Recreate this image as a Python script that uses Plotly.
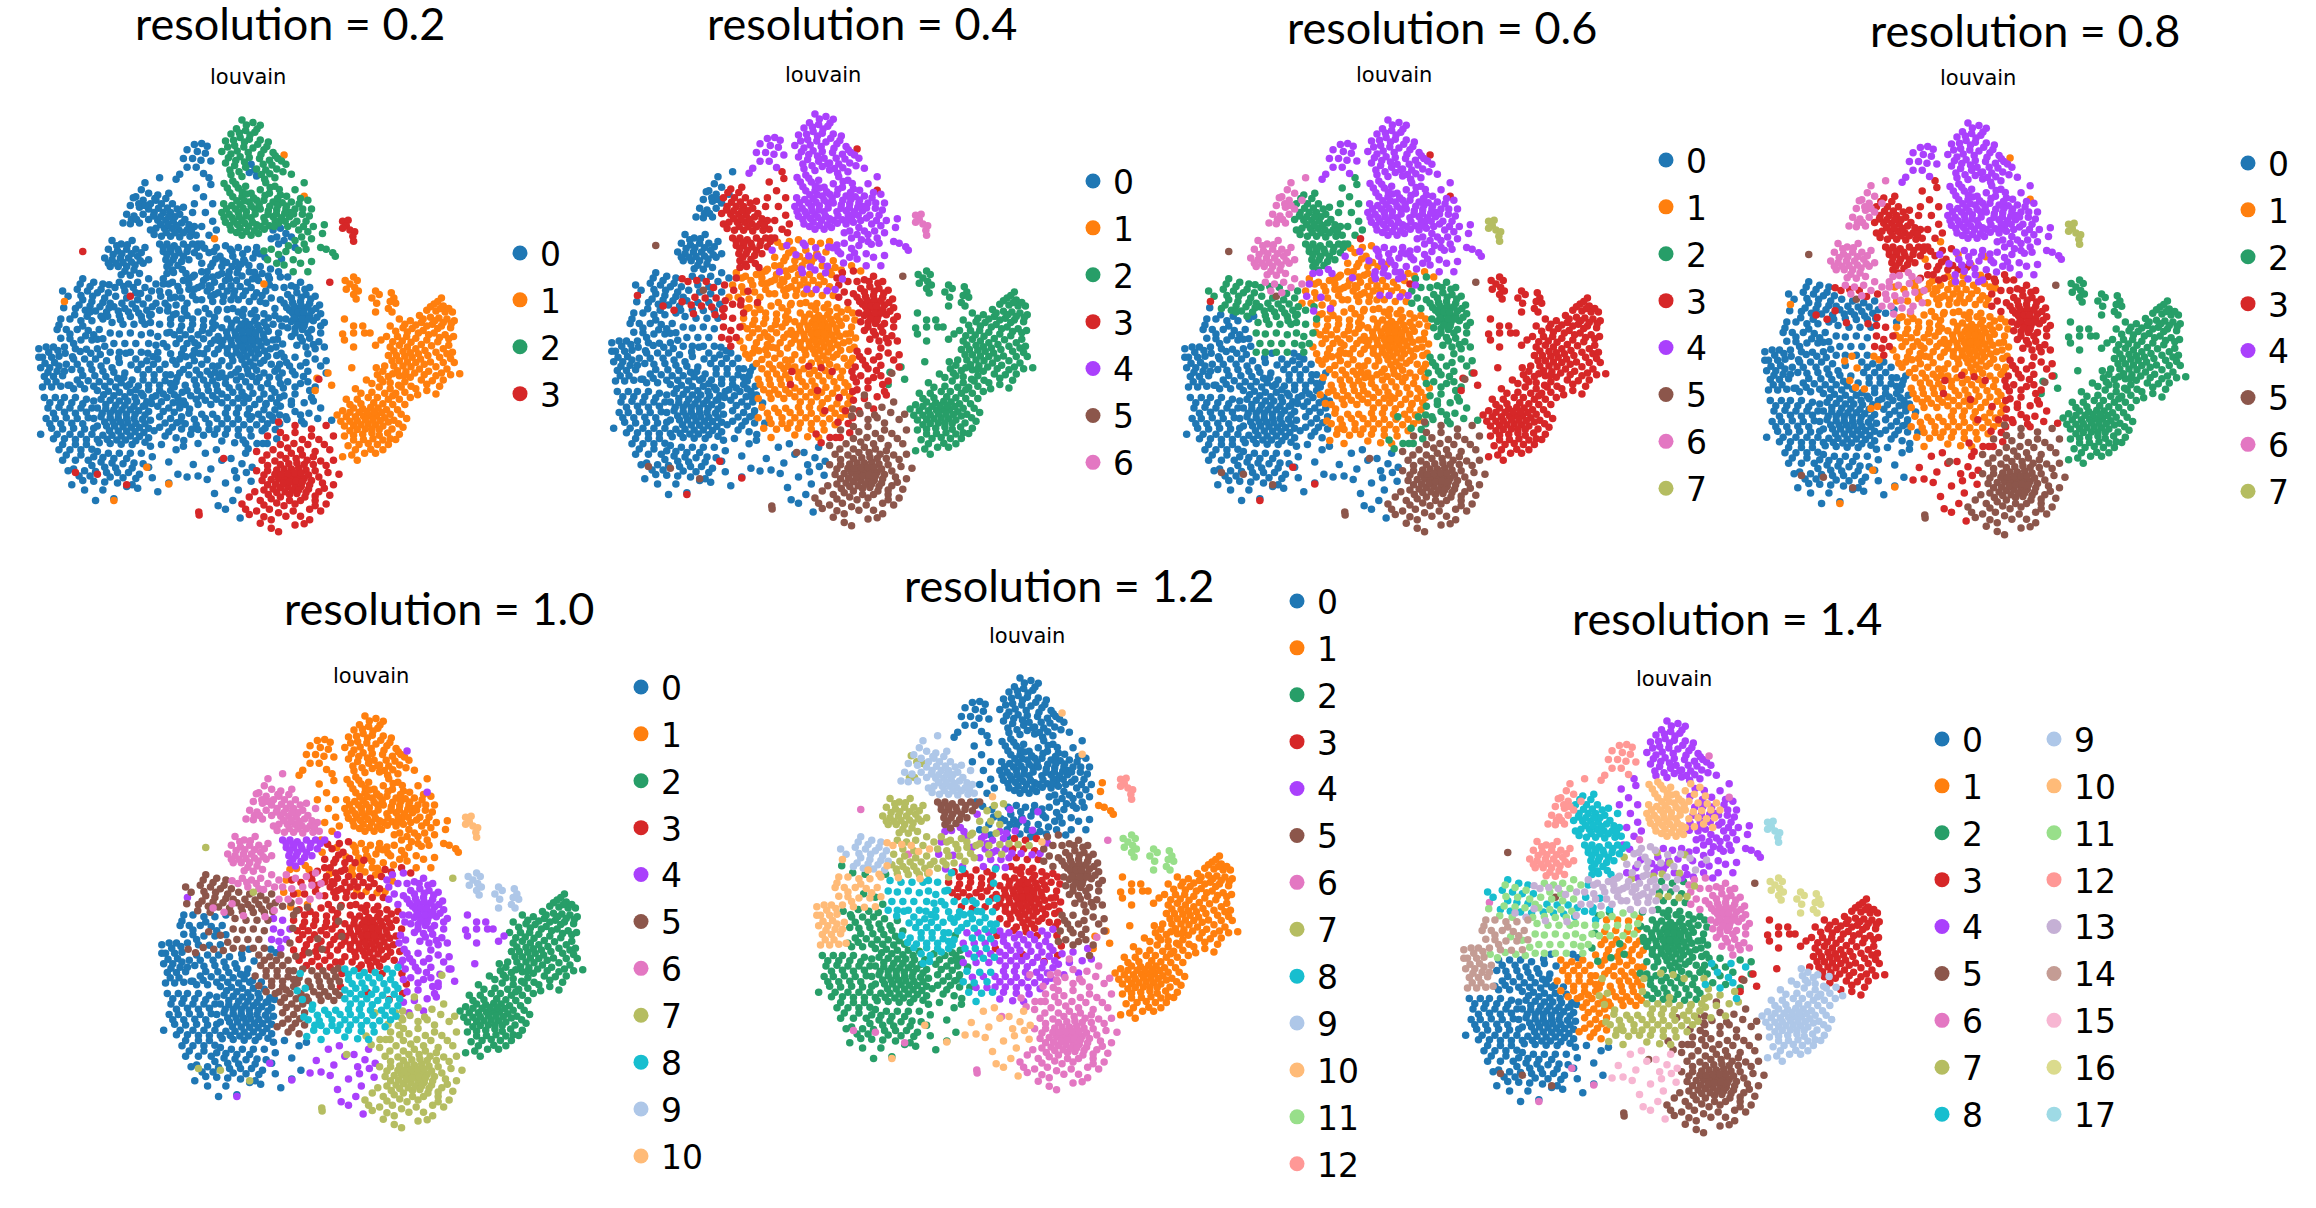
import plotly.graph_objects as go

peak = [(600,335),(630,342),(650,350),(585,360),(610,365),(635,370),(570,375),(595,385),(620,390),(650,392),(672,398),(555,395),(580,408),(605,412),(630,415),(660,420),(685,428),(545,425),(570,432),(595,440),(620,442),(648,445),(675,450),(698,445),(555,458),(580,465),(610,470),(640,475),(665,478),(695,475),(720,462),(570,492),(600,497),(662,505),(690,500),(735,490)]
peak_spot = [(625,462),(635,478),(620,485),(640,495)]
wing = [(470,405),(490,402),(505,410),(450,420),(478,425),(500,430),(440,445),(465,445),(488,450),(515,452),(450,470),(475,470),(495,488),(430,490),(420,505)]
wing_low = [(510,500),(475,530),(515,520),(495,555),(520,575),(470,575),(500,600),(520,625),(490,640),(510,665),(480,690),(530,650)]
mid_l = [(575,510),(560,530),(590,530),(610,525),(575,555),(600,555),(625,545),(550,575),(572,580),(595,578),(620,570),(640,565),(545,600),(565,605),(590,600),(612,598),(635,590),(555,628),(578,625),(600,622),(625,615),(570,650),(595,645),(618,640),(640,635),(600,665),(625,665)]
mid_c = [(665,515),(690,525),(650,535),(675,545),(705,550),(660,565),(685,570),(710,572),(735,570),(650,590),(672,595),(695,592),(720,590),(745,590),(660,615),(685,612),(708,615),(730,612),(650,640),(675,638),(700,630),(645,660),(725,640)]
mid_r = [(745,535),(770,515),(760,560),(780,565),(790,590),(765,605),(750,625),(775,625),(795,640),(755,650),(780,655),(790,675),(770,690),(745,680)]
patch = [(685,650),(705,645),(720,660),(695,670),(715,680),(735,670),(700,690),(680,675),(745,700)]
bridge_r = [(660,710),(680,705),(700,720),(720,712),(670,735),(695,745),(740,735),(760,745),(715,750),(780,770),(790,740),(740,770),(775,705)]
bridge_c = [(590,700),(615,705),(640,700),(575,725),(605,735),(630,730),(650,755),(590,760),(620,770),(565,770),(640,785)]
bridge_l = [(530,700),(555,695),(510,715),(540,725),(490,745),(520,745),(545,755),(505,770),(470,780),(535,780)]
blob_a_up = [(370,550),(400,545),(350,575),(380,575),(410,575),(360,600),(385,600),(405,600),(430,605),(345,620),(370,622),(392,622),(412,625),(435,630),(455,635),(365,645),(388,645),(408,645),(428,650),(450,650),(470,640),(350,650),(380,668),(405,668),(430,670),(458,668),(475,665),(440,585),(465,600)]
blob_a_low = [(375,690),(395,690),(415,695),(440,690),(465,690),(385,712),(405,712),(428,715),(450,712),(478,700),(392,735),(412,735),(435,740),(395,755),(410,765),(455,735),(490,690)]
fringe = [(335,515),(375,500),(325,535),(345,545),(310,555),(330,565),(295,580),(320,585),(345,590),(285,605),(305,610),(330,605),(275,630),(295,632),(320,630),(365,565)]
blob_b = [(245,680),(270,690),(300,680),(235,705),(260,710),(285,705),(310,705),(335,700),(225,730),(245,735),(268,730),(290,730),(315,725),(345,735),(240,755),(262,755),(285,755),(308,750),(330,745),(270,778),(295,780),(320,775)]
below_b = [(265,800),(290,805),(315,800),(335,815),(280,825),(310,830),(345,790),(365,805)]
cen_a = [(385,790),(410,800),(440,795),(465,785),(375,825),(400,830),(430,825),(455,820),(480,815),(365,860),(390,860),(420,865),(450,860),(475,850)]
cen_b = [(495,795),(525,800),(555,795),(505,825),(535,830),(560,825),(490,850),(520,855),(548,855),(570,850),(500,875),(535,878),(560,878)]
cen_c = [(585,795),(615,800),(645,795),(580,825),(610,825),(640,830),(590,850),(620,855),(650,855),(575,875),(605,878),(635,880)]
cen_d = [(675,790),(705,785),(690,815),(665,825),(715,815),(680,845),(705,850),(665,860),(690,875)]
right_core = [(735,810),(760,800),(785,815),(725,835),(750,830),(775,835),(800,840),(715,860),(738,858),(760,855),(785,860),(812,865),(730,880),(750,875),(770,878),(790,882),(815,890),(745,895),(760,893),(775,897),(720,905),(735,912),(755,912),(772,915),(795,910),(825,915),(725,930),(745,932),(765,935),(790,935),(815,945),(735,955),(760,958),(785,960),(810,970),(750,980),(775,985),(800,990),(825,985),(780,1005)]
center_core = [(590,885),(625,890),(660,890),(690,895),(560,905),(585,908),(610,912),(635,910),(660,915),(685,920),(545,930),(570,930),(592,932),(610,930),(628,935),(648,935),(672,940),(700,945),(535,955),(560,955),(583,952),(602,955),(620,952),(638,958),(660,960),(685,965),(545,980),(572,978),(595,975),(612,972),(630,978),(652,982),(678,990),(560,1003),(585,1000),(605,995),(625,1002),(645,1005),(670,1012),(695,1010),(545,1025),(575,1025),(600,1022),(622,1028),(650,1032),(680,1035),(590,1048),(615,1050),(640,1052)]
cen_l_up = [(420,890),(450,895),(480,885),(510,890),(405,920),(435,925),(465,920),(495,925),(520,915),(415,950),(445,950),(480,950),(510,945)]
cen_l_low = [(420,975),(450,975),(480,980),(515,975),(405,1005),(435,1005),(465,1010),(495,1005),(525,1005),(420,1035),(455,1038),(490,1035),(520,1040)]
right_low = [(715,1015),(745,1015),(800,1020),(730,1040),(760,1040),(830,1025),(710,1060),(745,1065),(780,1055),(725,1085),(760,1090),(800,1100),(830,1060)]
under_a = [(545,1060),(570,1065),(660,1060),(690,1055),(555,1090),(585,1080),(610,1085),(640,1085),(670,1090),(545,1120),(575,1115),(600,1115),(630,1118),(660,1120),(690,1115)]
under_l = [(455,1065),(485,1065),(515,1065),(445,1095),(475,1095),(505,1095),(530,1095),(460,1125),(490,1125),(520,1125),(445,1150),(480,1150),(515,1150)]
under_b = [(545,1145),(575,1145),(605,1145),(635,1150),(665,1150),(695,1145),(555,1175),(585,1175),(615,1178),(645,1178),(675,1180),(545,1205),(575,1205),(605,1208),(640,1208),(670,1205),(555,1235),(590,1238),(625,1240)]
under_c = [(455,1175),(490,1178),(520,1178),(445,1205),(475,1208),(510,1205),(460,1235),(495,1238),(525,1235),(480,1262)]
under_r = [(715,1125),(745,1120),(785,1110),(705,1155),(735,1150),(770,1145),(720,1185),(760,1180),(795,1140)]
left_up = [(165,790),(195,800),(220,805),(150,820),(178,825),(205,830),(235,830),(165,850),(190,855),(220,858),(145,875),(172,880),(200,882),(230,885),(125,840),(110,825)]
left_mid = [(255,840),(285,845),(315,850),(345,845),(250,870),(280,875),(310,875),(340,880),(265,895),(295,898),(325,898)]
left_band = [(105,905),(130,905),(160,910),(190,910),(220,905),(95,935),(120,935),(150,935),(180,938),(210,935),(105,960),(130,962),(160,965),(190,965),(220,962),(85,985),(115,985),(145,990),(175,992),(205,990)]
left_in = [(245,915),(275,920),(305,920),(335,920),(240,945),(265,948),(295,945),(325,950),(250,975),(280,975),(310,975),(240,1000),(265,1000),(295,1000),(325,1000)]
left_spot = [(350,915),(375,920),(395,945),(350,945),(370,955),(345,975),(365,980),(385,975),(370,1000)]
far_left = [(45,990),(65,985),(55,1015),(80,1015),(100,1012),(50,1045),(75,1045),(100,1040),(120,1035),(60,1070),(85,1070),(110,1068),(55,1100),(80,1100),(105,1098),(125,1095)]
low_band = [(140,1020),(170,1020),(200,1020),(230,1025),(265,1030),(135,1050),(160,1052),(190,1050),(220,1055),(250,1058),(280,1060),(150,1080),(180,1082),(210,1085),(240,1085),(270,1088)]
diag = [(310,1020),(340,1025),(370,1020),(405,1065),(315,1050),(345,1050),(375,1050),(300,1080),(330,1080),(360,1080),(390,1082),(420,1085),(310,1108),(345,1108),(375,1110),(405,1110),(430,1060)]
low_left = [(140,1105),(170,1105),(60,1130),(90,1130),(115,1130),(145,1130),(175,1135),(70,1160),(100,1158),(130,1160),(160,1160),(190,1160),(65,1190),(90,1190),(120,1188),(150,1190),(180,1188),(50,1235),(80,1218),(110,1220),(140,1218),(170,1220),(195,1218),(85,1248),(115,1248),(145,1250),(175,1250),(100,1280),(130,1280),(160,1280),(190,1278),(110,1310),(145,1310),(180,1310),(125,1340)]
low_core = [(205,1110),(235,1112),(265,1115),(295,1115),(325,1118),(215,1135),(240,1138),(265,1140),(288,1140),(312,1142),(340,1142),(205,1160),(228,1162),(250,1165),(272,1165),(295,1165),(318,1168),(345,1170),(215,1185),(240,1188),(262,1188),(285,1190),(305,1190),(328,1192),(350,1195),(205,1212),(230,1212),(252,1212),(275,1214),(298,1215),(320,1216),(345,1218),(220,1238),(245,1238),(270,1240),(295,1240),(320,1242),(345,1245),(210,1260),(240,1262),(270,1264),(300,1265)]
low_right = [(365,1125),(395,1130),(425,1130),(370,1155),(400,1160),(430,1160),(375,1185),(405,1190),(435,1185),(375,1215),(410,1215),(435,1220),(390,1240),(420,1245)]
low_fringe = [(205,1285),(235,1290),(265,1290),(295,1290),(325,1290),(215,1315),(245,1318),(275,1320),(305,1318),(330,1320),(140,1335),(170,1340),(200,1342),(230,1345),(260,1345),(290,1345),(320,1350),(135,1380),(165,1368),(195,1370),(225,1372),(260,1375),(300,1380),(170,1395),(220,1395),(250,1420),(200,1425),(315,1390),(285,1385)]
low_sparse = [(350,1270),(380,1265),(420,1280),(355,1300),(400,1315),(440,1270),(345,1330),(355,1360),(400,1375),(370,1400),(425,1350)]
bottom_strays = [(450,1358),(480,1355),(505,1365),(525,1405),(545,1310),(555,1375),(580,1340),(600,1320),(590,1395),(575,1425),(555,1450),(595,1475),(610,1290),(500,1290),(530,1280),(625,1370)]
bottom_blob = [(700,1200),(745,1210),(790,1220),(830,1210),(670,1240),(720,1245),(765,1250),(810,1250),(850,1240),(640,1285),(685,1280),(725,1275),(760,1280),(800,1285),(840,1280),(655,1310),(690,1312),(720,1305),(748,1305),(778,1310),(815,1312),(850,1310),(640,1340),(670,1340),(695,1338),(715,1335),(735,1335),(755,1332),(775,1338),(800,1340),(835,1345),(865,1350),(655,1368),(680,1365),(700,1362),(718,1360),(735,1358),(752,1358),(770,1362),(790,1368),(820,1375),(850,1380),(660,1395),(685,1392),(705,1388),(725,1385),(745,1382),(762,1385),(782,1392),(810,1400),(840,1410),(620,1415),(650,1425),(680,1420),(705,1415),(730,1408),(750,1405),(772,1415),(800,1425),(830,1435),(600,1435),(640,1455),(675,1450),(715,1440),(745,1435),(785,1450),(815,1455),(620,1465),(650,1490),(680,1480),(720,1470),(760,1470),(785,1480),(700,1515),(680,1505),(745,1495),(482,1458),(483,1467)]
arm_low = [(970,1065),(1000,1070),(940,1080),(910,1105),(975,1100),(1005,1105),(1035,1100),(885,1135),(915,1135),(945,1130),(970,1130),(1000,1135),(1030,1135),(1060,1130),(905,1160),(930,1162),(952,1158),(972,1160),(995,1165),(1025,1165),(860,1180),(885,1185),(910,1185),(932,1183),(950,1182),(968,1182),(990,1188),(1015,1195),(1050,1190),(880,1212),(905,1210),(925,1208),(945,1205),(965,1208),(985,1212),(1010,1220),(1040,1215),(880,1240),(905,1238),(930,1235),(955,1232),(975,1238),(1005,1248),(1030,1235),(890,1268),(920,1265),(945,1262),(970,1265),(1000,1265),(900,1295),(935,1290),(965,1290),(875,1300),(915,1310)]
arm_up = [(1145,845),(1125,862),(1150,868),(1105,880),(1130,882),(1155,885),(1175,885),(1085,895),(1115,900),(1138,902),(1160,905),(1180,910),(1030,905),(1060,910),(1090,915),(1120,920),(1145,925),(1170,930),(1005,925),(1040,930),(1065,932),(1095,938),(1125,945),(1155,950),(1178,955),(995,955),(1025,955),(1050,955),(1075,960),(1105,965),(1135,970),(1165,980),(1005,985),(1030,980),(1052,985),(1075,990),(1100,995),(1130,1000),(1160,1005),(1000,1010),(1022,1010),(1045,1012),(1065,1015),(1088,1020),(1115,1028),(1150,1030),(1180,1030),(990,1040),(1015,1040),(1040,1040),(1062,1042),(1085,1048),(1110,1055),(1145,1060),(1170,1065),(1195,1062),(1030,1068),(1060,1072),(1090,1080),(1120,1082),(1150,1080),(1075,1105),(1105,1110),(1130,1120)]
tiny = [(875,625),(890,622),(885,638),(875,645),(895,650),(908,655),(903,668),(905,682)]
small_a = [(905,785),(915,795),(895,805),(908,815),(885,820),(918,825),(905,835),(912,848),(882,795),(965,825),(975,835),(955,845),(968,860),(965,885),(1008,830),(1015,845),(1005,855),(1020,860),(1000,875),(1010,885)]
right_strays = [(815,700),(830,705),(848,715),(855,725),(825,635),(820,660)]
gap_strays = [(880,905),(905,925),(875,948),(935,945),(950,945),(905,945),(880,965),(905,985),(965,980),(900,1045),(930,925),(980,965),(835,1060),(805,1075),(800,1110),(845,1095)]
specks_a = [(165,712),(295,840),(145,1345),(205,1350),(285,1380),(550,1305),(840,800),(810,1078)]
specks_b = [(715,435),(770,553),(525,675),(660,805),(115,855),(340,1330),(400,1378),(250,1425)]
specks_c = [(455,790),(470,820),(510,810),(545,775),(525,835)]

# second pass over the cloud, in between the first points
top2 = [(612,349),(641,361),(593,372),(622,378),(577,393),(607,398),(643,404),(668,411),(561,412),(587,424),(617,428),(652,433),(691,437),(563,443),(583,451),(607,455),(658,462),(682,464),(708,452),(567,478),(592,483),(653,491),(676,489),(712,483)]
midl2 = [(551,517),(583,519),(601,541),(567,543),(612,547),(586,566),(606,566),(632,558),(558,589),(582,590),(603,588),(625,582),(647,577),(551,614),(573,615),(592,612),(611,610),(636,604),(567,637),(588,634),(608,631),(629,628),(585,657),(612,654),(634,652)]
midr2 = [(677,528),(702,534),(722,553),(663,551),(697,560),(722,581),(676,582),(698,580),(733,600),(756,575),(671,605),(694,604),(717,602),(741,604),(766,590),(663,627),(691,624),(718,625),(741,633),(768,640),(661,648),(688,640),(784,610),(763,670),(727,695),(754,708)]
mix_a = [(523,712),(568,705),(602,718),(637,716),(548,738),(583,742),(619,752),(663,728),(708,733),(678,762),(600,782),(629,790),(566,790)]
mix_b = [(498,702),(528,733),(558,743),(573,755),(597,748),(515,755),(490,770),(655,775),(672,782),(700,770),(725,785),(520,785)]
a_up2 = [(362,560),(392,560),(423,590),(372,588),(396,587),(417,612),(358,610),(378,612),(400,612),(422,637),(444,620),(378,634),(398,634),(417,658),(440,658),(462,652),(360,663),(393,657)]
a_low2 = [(385,700),(405,702),(425,705),(452,700),(395,722),(416,725),(440,725),(403,745),(425,752),(470,715)]
b2 = [(258,695),(287,692),(248,720),(272,718),(298,718),(325,715),(235,745),(256,745),(275,743),(298,742),(322,738),(280,768),(305,765),(303,558),(318,575),(335,580),(298,620),(312,620)]
left2_a = [(158,805),(185,812),(215,820),(160,838),(192,840),(225,845),(155,865),(185,868),(212,870),(240,860)]
left2_b = [(272,860),(300,862),(330,862),(355,870),(262,882),(290,885),(318,888),(348,895),(375,880),(398,870),(405,905)]
core2 = [(602,895),(640,900),(672,902),(572,917),(598,920),(622,921),(643,923),(667,928),(558,942),(581,942),(601,943),(619,942),(637,946),(658,948),(548,967),(570,966),(590,964),(607,963),(626,965),(646,969),(668,972),(560,990),(584,988),(601,985),(620,988),(640,992),(662,997),(572,1012),(595,1010),(613,1012),(636,1017),(660,1024),(608,1036),(632,1040),(565,1040)]
cen3 = [(435,905),(465,905),(495,908),(525,900),(430,938),(460,935),(492,938),(520,932),(430,962),(462,962),(495,962),(525,965),(440,990),(470,995),(505,990),(535,992)]
cen4 = [(430,1020),(470,1025),(505,1022),(535,1040),(440,1050),(475,1052),(505,1055)]
olive_mix = [(400,805),(425,812),(455,805),(490,810),(515,815),(545,812),(570,810),(405,845),(435,845),(465,838),(515,840),(550,840),(595,812),(625,815)]
right2 = [(748,815),(772,820),(735,845),(762,843),(788,848),(722,872),(742,868),(762,867),(780,870),(802,875),(738,887),(753,885),(768,886),(785,895),(742,903),(765,905),(782,905),(805,900),(752,922),(770,925),(780,945),(745,945),(765,968),(795,978),(815,925)]
rlow2 = [(722,1030),(775,1030),(738,1055),(768,1070),(705,1090),(745,1100),(780,1085),(815,1040),(790,1130)]
far2 = [(72,1000),(97,995),(130,948),(100,922),(140,975),(62,1032),(88,1030),(70,1058),(95,1055),(68,1085),(92,1085),(115,1055),(45,1015),(165,925),(195,950)]
low2 = [(150,1035),(185,1035),(215,1040),(245,1045),(165,1067),(198,1068),(228,1070),(260,1075),(130,1095),(158,1092),(195,1098),(225,1098),(255,1100),(285,1098),(75,1145),(105,1145),(135,1145),(165,1148),(85,1175),(115,1172),(145,1175),(175,1172),(195,1140),(75,1205),(105,1205),(135,1204),(165,1205),(195,1190),(95,1235),(130,1235),(160,1235),(190,1235),(110,1265),(145,1265),(175,1265),(205,1250),(120,1295),(160,1295),(195,1300),(220,1302),(250,1305),(285,1305),(190,1325),(225,1330),(255,1332),(300,1332),(155,1355),(185,1355),(240,1358),(275,1360),(310,1362),(222,1122),(250,1125),(280,1128),(308,1130),(228,1150),(255,1152),(280,1152),(305,1155),(330,1155),(218,1175),(240,1175),(262,1176),(284,1178),(308,1178),(335,1180),(225,1200),(248,1200),(268,1200),(288,1202),(310,1204),(335,1205),(238,1225),(262,1226),(285,1227),(308,1228),(332,1230),(232,1250),(258,1252),(282,1252),(310,1254),(335,1258)]
diag2 = [(325,1035),(358,1035),(390,1035),(330,1065),(360,1065),(392,1065),(345,1095),(375,1095),(405,1090),(330,1125),(355,1130),(385,1120),(415,1100)]
low_right2 = [(380,1142),(412,1145),(440,1140),(385,1170),(415,1172),(390,1203),(422,1202),(360,1225),(400,1228)]
under2 = [(560,1160),(590,1160),(620,1162),(660,1165),(690,1165),(532,1190),(560,1190),(590,1192),(622,1192),(655,1192),(685,1195),(532,1220),(560,1220),(590,1222),(622,1222),(655,1225),(545,1255),(580,1260),(610,1262),(500,1190),(470,1192),(510,1222),(480,1222)]
under3 = [(555,1075),(598,1070),(628,1070),(675,1072),(565,1102),(592,1100),(622,1100),(652,1102),(682,1105),(560,1130),(590,1132),(618,1132),(648,1135),(680,1132)]
under4 = [(470,1080),(495,1080),(520,1082),(450,1110),(478,1110),(508,1110),(475,1135),(500,1138),(530,1135)]
bottom2 = [(705,1230),(745,1230),(790,1240),(705,1265),(742,1262),(780,1265),(825,1265),(668,1295),(705,1295),(735,1290),(765,1295),(795,1300),(670,1325),(705,1322),(728,1320),(750,1318),(770,1322),(795,1322),(830,1325),(660,1352),(690,1350),(708,1350),(726,1348),(744,1346),(762,1347),(782,1352),(810,1358),(670,1380),(692,1378),(712,1374),(730,1372),(748,1370),(765,1372),(785,1380),(825,1390),(635,1400),(672,1408),(695,1402),(718,1400),(738,1395),(755,1395),(775,1402),(800,1412),(660,1438),(695,1432),(730,1425),(760,1425),(800,1440),(610,1450),(660,1472),(700,1460),(740,1455),(770,1492)]
arm_low2 = [(955,1090),(985,1085),(925,1118),(955,1115),(990,1118),(1020,1118),(895,1150),(925,1148),(960,1145),(985,1148),(1012,1150),(1045,1150),(875,1168),(895,1172),(920,1172),(942,1170),(962,1170),(982,1173),(1005,1178),(1035,1178),(870,1198),(895,1198),(915,1196),(937,1194),(958,1194),(978,1196),(1000,1200),(1028,1205),(895,1225),(915,1222),(937,1220),(955,1220),(975,1222),(998,1232),(1020,1250),(905,1252),(932,1250),(958,1248),(985,1252),(910,1280),(952,1278),(985,1280)]
arm_up2 = [(1135,855),(1115,870),(1142,875),(1165,875),(1095,905),(1127,910),(1150,915),(1172,918),(1045,920),(1075,922),(1105,925),(1135,932),(1020,940),(1052,942),(1082,945),(1110,950),(1140,958),(1165,962),(1012,970),(1038,968),(1062,972),(1090,978),(1118,982),(1150,990),(1175,1000),(1015,997),(1040,998),(1060,1002),(1082,1005),(1108,1010),(1140,1015),(1170,1018),(1010,1025),(1030,1025),(1052,1028),(1075,1030),(1098,1035),(1130,1042),(1160,1048),(1025,1053),(1048,1056),(1072,1060),(1098,1065),(1130,1068),(1045,1085),(1105,1092),(1140,1098)]
strays2 = [(467,1322),(515,1335),(570,1305),(612,1345),(535,1440),(585,1360),(628,1330)]

# points along the cluster borders, where the colours mix
border_a = [(413,893),(443,883),(528,923),(403,943),(471,973),(537,967),(411,1023),(447,1013),(527,1058),(483,1003),(533,882),(395,985)]
border_b = [(423,1073),(437,1115),(429,1147),(457,1163),(433,1197),(463,1221),(441,1253),(415,1122)]
border_c = [(113,873),(143,893),(177,897),(233,897),(173,953),(205,963),(117,1003),(225,983),(158,998),(187,1003),(213,1007),(137,1013)]
border_d = [(283,1003),(263,1017),(297,1037),(277,1073),(293,1093),(317,1097),(343,1003),(357,1013),(335,1153),(353,1147)]
border_e = [(537,1073),(583,1058),(617,1062),(647,1073),(701,1073),(713,1103),(533,1110),(607,1127),(703,1130),(666,1147)]
border_f = [(697,963),(693,985),(707,1003),(711,977),(703,1035),(697,1047),(709,925),(703,905)]
border_g = [(483,725),(573,712),(608,742),(649,718),(503,787),(563,780),(587,773),(634,771),(675,808),(578,837),(603,838),(633,841),(655,838)]
border_h = [(413,772),(437,763),(395,775),(447,775),(385,805),(417,843),(378,840),(443,875),(397,882)]
border_i = [(237,807),(253,815),(277,812),(303,815),(323,832),(353,825),(237,873),(268,907),(327,910),(352,892),(185,885),(215,897)]
arm_join = [(967,1045),(985,1055),(1012,1062),(1043,1067),(1005,1088),(1028,1095),(1062,1098),(1045,1115),(1080,1122),(978,1077),(1012,1125)]
under_edge = [(627,1185),(663,1218),(691,1222),(603,1252),(641,1262),(669,1262),(695,1248),(617,1277),(657,1262),(683,1185),(703,1205)]
blob_edge = [(723,1193),(763,1197),(703,1180),(745,1170),(783,1175),(807,1190),(735,1140),(770,1205),(815,1160),(845,1195)]

resolutions = ["0.2", "0.4", "0.6", "0.8", "1.0", "1.2", "1.4"]
n_clusters = [4, 7, 8, 8, 11, 13, 18]

# cluster of each patch at each resolution
patches = [
    (peak, [2, 4, 4, 4, 1, 0, 4]), (peak_spot, [0, 4, 4, 4, 1, 0, 4]), (wing, [0, 4, 4, 4, 1, 0, 12]),
    (wing_low, [0, 3, 2, 3, 1, 0, 4]), (mid_l, [2, 4, 4, 4, 1, 0, 10]), (mid_c, [2, 4, 4, 4, 1, 0, 10]),
    (mid_r, [2, 4, 4, 4, 1, 0, 4]), (patch, [0, 4, 4, 4, 1, 0, 4]), (bridge_r, [2, 4, 4, 4, 1, 0, 4]),
    (bridge_c, [0, 1, 4, 4, 1, 0, 4]), (bridge_l, [0, 1, 1, 3, 3, 7, 13]), (blob_a_up, [0, 3, 2, 3, 6, 9, 8]),
    (blob_a_low, [0, 3, 2, 3, 4, 5, 8]), (fringe, [0, 0, 6, 6, 6, 9, 12]), (blob_b, [0, 0, 6, 6, 6, 7, 12]),
    (below_b, [0, 0, 6, 6, 6, 7, 11]), (cen_a, [0, 1, 1, 6, 6, 7, 13]), (cen_b, [0, 1, 1, 1, 3, 4, 13]),
    (cen_c, [0, 1, 1, 1, 3, 3, 2]), (cen_d, [0, 3, 2, 3, 4, 5, 6]), (right_core, [0, 3, 2, 3, 4, 5, 6]),
    (center_core, [0, 1, 1, 1, 3, 3, 2]), (cen_l_up, [0, 1, 1, 1, 3, 3, 11]), (cen_l_low, [0, 1, 1, 1, 3, 8, 1]),
    (right_low, [0, 3, 2, 3, 4, 5, 2]), (under_a, [0, 1, 1, 1, 8, 4, 2]), (under_l, [0, 1, 1, 1, 5, 4, 1]),
    (under_b, [0, 1, 1, 1, 8, 4, 7]), (under_c, [0, 1, 1, 1, 8, 8, 7]), (under_r, [0, 3, 2, 3, 4, 4, 7]),
    (left_up, [0, 0, 2, 0, 5, 9, 8]), (left_mid, [0, 0, 2, 0, 5, 7, 11]), (left_band, [0, 0, 0, 0, 0, 10, 14]),
    (left_in, [0, 0, 2, 0, 5, 8, 11]), (left_spot, [0, 3, 2, 3, 4, 8, 11]), (far_left, [0, 0, 0, 0, 0, 10, 14]),
    (low_band, [0, 0, 0, 0, 0, 2, 0]), (diag, [0, 0, 0, 0, 5, 8, 1]), (low_left, [0, 0, 0, 0, 0, 2, 0]),
    (low_core, [0, 0, 0, 0, 0, 2, 0]), (low_right, [0, 0, 0, 0, 5, 2, 1]), (low_fringe, [0, 0, 0, 0, 0, 2, 0]),
    (low_sparse, [0, 0, 0, 0, 0, 2, 0]), (bottom_strays, [0, 0, 0, 3, 4, 10, 15]), (bottom_blob, [3, 5, 5, 5, 7, 6, 5]),
    (arm_low, [1, 2, 3, 2, 2, 1, 9]), (arm_up, [1, 2, 3, 2, 2, 1, 3]), (tiny, [3, 6, 7, 7, 10, 12, 17]),
    (small_a, [1, 2, 3, 2, 9, 11, 16]), (right_strays, [2, 4, 4, 4, 1, 1, 4]), (gap_strays, [1, 2, 3, 2, 4, 1, 3]),
    (specks_a, [3, 5, 5, 5, 7, 6, 5]), (specks_b, [1, 3, 3, 1, 4, 10, 6]), (specks_c, [0, 1, 1, 1, 3, 4, 13]),
    (top2, [2, 4, 4, 4, 1, 0, 4]), (midl2, [2, 4, 4, 4, 1, 0, 10]), (midr2, [2, 4, 4, 4, 1, 0, 4]),
    (mix_a, [0, 4, 4, 4, 1, 0, 13]), (mix_b, [0, 1, 1, 3, 3, 0, 4]), (a_up2, [0, 3, 2, 3, 6, 9, 8]),
    (a_low2, [0, 3, 2, 3, 4, 5, 8]), (b2, [0, 0, 6, 6, 6, 7, 12]), (left2_a, [0, 0, 2, 0, 5, 9, 11]),
    (left2_b, [0, 3, 2, 0, 5, 7, 8]), (core2, [0, 1, 1, 1, 3, 3, 2]), (cen3, [0, 1, 1, 1, 3, 3, 1]),
    (cen4, [0, 1, 1, 1, 3, 8, 1]), (olive_mix, [0, 1, 1, 1, 3, 7, 13]), (right2, [0, 3, 2, 3, 4, 5, 6]),
    (rlow2, [0, 3, 2, 3, 4, 5, 8]), (far2, [0, 0, 0, 0, 0, 10, 14]), (low2, [0, 0, 0, 0, 0, 2, 0]),
    (diag2, [0, 0, 0, 0, 5, 8, 1]), (low_right2, [0, 0, 0, 0, 5, 2, 1]), (under2, [0, 1, 1, 1, 8, 4, 7]),
    (under3, [0, 1, 1, 1, 8, 4, 2]), (under4, [0, 1, 1, 1, 5, 8, 1]), (bottom2, [3, 5, 5, 5, 7, 6, 5]),
    (arm_low2, [1, 2, 3, 2, 2, 1, 9]), (arm_up2, [1, 2, 3, 2, 2, 1, 3]), (strays2, [0, 0, 0, 3, 4, 10, 15]),
    (border_a, [0, 1, 1, 1, 5, 8, 2]), (border_b, [0, 0, 1, 0, 8, 2, 7]), (border_c, [0, 0, 0, 0, 5, 2, 11]),
    (border_d, [0, 0, 0, 1, 0, 8, 0]), (border_e, [0, 3, 1, 3, 3, 3, 7]), (border_f, [0, 1, 1, 1, 4, 3, 2]),
    (border_g, [0, 4, 4, 1, 1, 4, 7]), (border_h, [0, 3, 4, 6, 1, 4, 8]), (border_i, [0, 3, 2, 3, 6, 10, 13]),
    (arm_join, [1, 2, 3, 2, 2, 1, 9]), (under_edge, [0, 3, 2, 3, 7, 6, 5]), (blob_edge, [0, 5, 2, 3, 7, 6, 5]),
]

palette = ["#1f77b4", "#ff7f0e", "#279e68", "#d62728", "#aa40fc", "#8c564b", "#e377c2", "#b5bd61", "#17becf",
           "#aec7e8", "#ffbb78", "#98df8a", "#ff9896", "#c5b0d5", "#c49c94", "#f7b6d2", "#dbdb8d", "#9edae5"]

W, H = 2316, 1208
SX, SY = 0.366, 0.349
# left/top of the cloud, title centre, louvain centre, legend marker x and first row y, in page pixels
panel_left = [37, 610, 1183, 1763, 160, 815, 1462]
panel_top = [119, 113, 119, 122, 715, 677, 720]
title_pos = [(290, 23), (862, 23), (1442, 27), (2025, 30), (439, 608), (1059, 585), (1727, 618)]
louvain_pos = [(248, 77), (823, 75), (1394, 75), (1978, 78), (371, 676), (1027, 636), (1674, 679)]
legend_pos = [(522, 245), (1095, 173), (1668, 152), (2250, 155), (643, 679), (1299, 593), (1944, 731)]
legend2_pos = (2056, 731)

fig = go.Figure()
layout = {}
annotations = []


def legend_style(x, y):
    return dict(
        x=(x - 22) / W, y=1 - (y - 20) / H, xanchor="left", yanchor="top",
        font=dict(family="DejaVu Sans", size=33, color="black"), tracegroupgap=1, itemwidth=30,
        bgcolor="rgba(0,0,0,0)", itemclick=False, itemdoubleclick=False,
    )


for i, res in enumerate(resolutions):
    suffix = "" if i == 0 else str(i + 1)
    x0 = (panel_left[i] - 40 * SX) / W
    x1 = (panel_left[i] + 1200 * SX) / W
    y0 = 1 - (panel_top[i] + 1228 * SY) / H
    y1 = 1 - (panel_top[i] - 32 * SY) / H
    layout["xaxis" + suffix] = dict(domain=[x0, x1], range=[0, 1240], visible=False, anchor="y" + suffix)
    layout["yaxis" + suffix] = dict(domain=[y0, y1], range=[1560, 300], visible=False, anchor="x" + suffix)

    for k in range(n_clusters[i]):
        pts = []
        for pp, labels in patches:
            if labels[i] == k:
                pts += pp
        fig.add_trace(go.Scatter(
            x=[p[0] for p in pts], y=[p[1] for p in pts], mode="markers",
            marker=dict(size=7.5, color=palette[k]), showlegend=False,
            xaxis="x" + suffix, yaxis="y" + suffix,
        ))
        # separate empty trace so the legend dot can be bigger than the points
        legend_id = "legend" + suffix
        if i == 6 and k >= 9:
            legend_id = "legend8"
        fig.add_trace(go.Scatter(
            x=[None], y=[None], mode="markers", name=str(k),
            marker=dict(size=15, color=palette[k]), legend=legend_id, legendgroup=f"{i}_{k}",
            xaxis="x" + suffix, yaxis="y" + suffix,
        ))

    layout["legend" + suffix] = legend_style(legend_pos[i][0], legend_pos[i][1])
    annotations.append(dict(text="resolution = " + res, x=title_pos[i][0] / W, y=1 - title_pos[i][1] / H,
                            xref="paper", yref="paper", showarrow=False, xanchor="center", yanchor="middle",
                            font=dict(family="Lato", size=45, color="black")))
    annotations.append(dict(text="louvain", x=louvain_pos[i][0] / W, y=1 - louvain_pos[i][1] / H,
                            xref="paper", yref="paper", showarrow=False, xanchor="center", yanchor="middle",
                            font=dict(family="DejaVu Sans", size=21, color="black")))

layout["legend8"] = legend_style(legend2_pos[0], legend2_pos[1])

fig.update_layout(
    width=W, height=H, margin=dict(l=0, r=0, t=0, b=0),
    paper_bgcolor="white", plot_bgcolor="white",
    annotations=annotations, hovermode=False, **layout,
)

# the page margin would push the figure 8px down and right
fig.write_html("out.html", config={"displayModeBar": False}, post_script="document.body.style.margin = '0';")
